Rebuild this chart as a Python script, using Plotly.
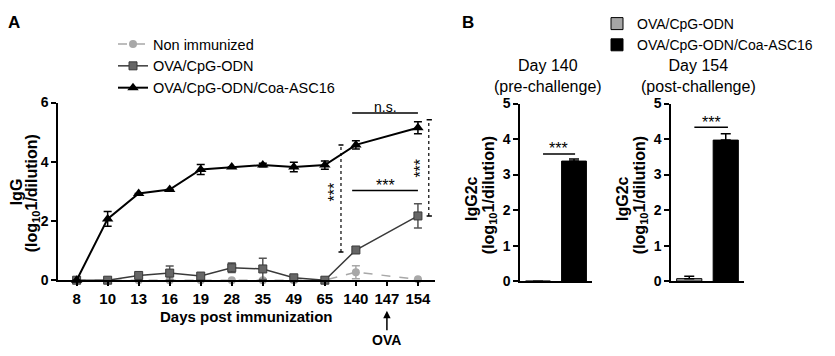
import plotly.graph_objects as go

W, H = 835, 356
FONT = "Liberation Sans, Arial, sans-serif"

# ---------------- data ----------------
days = ["8", "10", "13", "16", "19", "28", "35", "49", "65", "140", "147", "154"]
sampled_days = ["8", "10", "13", "16", "19", "28", "35", "49", "65", "140", "154"]

non_imm = [0, 0, 0, 0, 0, 0, 0, 0, 0, 0.27, 0.03]
non_imm_err = [0, 0, 0, 0, 0, 0, 0, 0, 0, 0.22, 0]

cpg = [0, 0, 0.16, 0.24, 0.14, 0.42, 0.38, 0.08, 0, 1.02, 2.17]
cpg_err = [0, 0, 0, 0.24, 0, 0.16, 0.36, 0, 0, 0, 0.41]

coa = [0, 2.07, 2.93, 3.06, 3.74, 3.82, 3.89, 3.82, 3.89, 4.57, 5.15]
coa_err = [0, 0.25, 0, 0, 0.17, 0, 0.06, 0.16, 0.14, 0.14, 0.2]

groups = ["OVA/CpG-ODN", "OVA/CpG-ODN/Coa-ASC16"]
d140 = [0.0, 3.38]
d140_err = [0.0, 0.06]
d154 = [0.07, 3.97]
d154_err = [0.07, 0.18]

# ---------------- helpers ----------------
def px_x(x):
    return x / W

def px_y(y):
    return 1 - y / H

XT = dict(family=FONT, size=15, color="black", weight="bold")
YT = dict(family=FONT, size=14, color="black", weight="bold")

fig = go.Figure()

# Panel A lines
fig.add_trace(go.Scatter(
    x=sampled_days, y=non_imm, name="Non immunized", mode="lines+markers",
    line=dict(color="#a8a8a8", width=1.5, dash="dash"),
    marker=dict(symbol="circle", size=8, color="#a8a8a8"),
    error_y=dict(type="data", array=non_imm_err, color="#a8a8a8", thickness=1.5, width=4),
    cliponaxis=False, xaxis="x", yaxis="y", legend="legend"))
fig.add_trace(go.Scatter(
    x=sampled_days, y=cpg, name="OVA/CpG-ODN", mode="lines+markers",
    line=dict(color="#3a3a3a", width=1.5),
    marker=dict(symbol="square", size=8, color="#666666", line=dict(color="#3a3a3a", width=1)),
    error_y=dict(type="data", array=cpg_err, color="#555555", thickness=1.5, width=4),
    cliponaxis=False, xaxis="x", yaxis="y", legend="legend"))
fig.add_trace(go.Scatter(
    x=sampled_days, y=coa, name="OVA/CpG-ODN/Coa-ASC16", mode="lines+markers",
    line=dict(color="black", width=2),
    marker=dict(symbol="triangle-up", size=10, color="black"),
    error_y=dict(type="data", array=coa_err, color="black", thickness=1.5, width=4),
    cliponaxis=False, xaxis="x", yaxis="y", legend="legend"))

# Panel B bars
colors = ["#a6a6a6", "black"]
for i, g in enumerate(groups):
    fig.add_trace(go.Bar(
        x=[g], y=[d140[i]], name=g, width=0.69,
        marker=dict(color=colors[i], line=dict(color="black", width=1)),
        error_y=dict(type="data", symmetric=False, array=[d140_err[i]], arrayminus=[0],
                     color="black", thickness=1.5, width=5),
        xaxis="x2", yaxis="y2", legend="legend2", legendgroup=g, showlegend=True))
for i, g in enumerate(groups):
    fig.add_trace(go.Bar(
        x=[g], y=[d154[i]], name=g, width=0.69,
        marker=dict(color=colors[i], line=dict(color="black", width=1)),
        error_y=dict(type="data", symmetric=False, array=[d154_err[i]], arrayminus=[0],
                     color="black", thickness=1.5, width=5),
        xaxis="x3", yaxis="y3", legend="legend2", legendgroup=g, showlegend=False))

axis_common = dict(showline=True, linecolor="black", linewidth=1.5, ticks="outside",
                   ticklen=5, tickwidth=1.5, tickcolor="black", showgrid=False,
                   zeroline=False, fixedrange=True)

ydom = [px_y(285), px_y(99)]
ydomB = [px_y(286), px_y(100)]

fig.update_layout(
    width=W, height=H, margin=dict(l=0, r=0, t=0, b=0),
    paper_bgcolor="white", plot_bgcolor="white",
    font=dict(family=FONT, color="black"),
    barmode="overlay",
    xaxis=dict(domain=[px_x(58), px_x(435)], type="category", categoryorder="array",
               categoryarray=days, tickvals=days, ticktext=days, range=[-0.6, 11.55],
               anchor="y", tickfont=XT, **{**axis_common, "ticklen": 4}),
    yaxis=dict(domain=ydom, range=[0, 6], tickvals=[0, 2, 4, 6], anchor="x", tickfont=YT,
               **axis_common),
    xaxis2=dict(domain=[px_x(520), px_x(592)], type="category", categoryorder="array",
                categoryarray=groups, range=[-0.5, 1.5], anchor="y2",
                **{**axis_common, "ticks": "", "showticklabels": False}),
    yaxis2=dict(domain=ydomB, range=[0, 5], dtick=1, anchor="x2", tickfont=YT, **axis_common),
    xaxis3=dict(domain=[px_x(671), px_x(744)], type="category", categoryorder="array",
                categoryarray=groups, range=[-0.5, 1.5], anchor="y3",
                **{**axis_common, "ticks": "", "showticklabels": False}),
    yaxis3=dict(domain=ydomB, range=[0, 5], dtick=1, anchor="x3", tickfont=YT, **axis_common),
    legend=dict(x=px_x(113), y=px_y(21), xanchor="left", yanchor="top",
                font=dict(family=FONT, size=14.5, color="black"), bgcolor="rgba(0,0,0,0)",
                tracegroupgap=0),
    legend2=dict(x=px_x(597), y=1, xanchor="left", yanchor="top",
                 font=dict(family=FONT, size=14, color="black"), bgcolor="rgba(0,0,0,0)",
                 tracegroupgap=0),
)

shapes = []
def seg(x0, y0, x1, y1, xref, yref, dash="solid", width=1.5):
    shapes.append(dict(type="line", x0=x0, y0=y0, x1=x1, y1=y1, xref=xref, yref=yref,
                       line=dict(color="black", width=width, dash=dash)))

# Panel A brackets
seg(8.88, 5.65, 11.0, 5.65, "x", "y")
seg(8.88, 3.03, 11.0, 3.03, "x", "y")
seg(8.52, 0.95, 8.52, 4.57, "x", "y", dash="dot", width=1.2)
seg(8.44, 0.95, 8.6, 0.95, "x", "y")
seg(8.44, 4.57, 8.6, 4.57, "x", "y")
seg(11.35, 2.17, 11.35, 5.42, "x", "y", dash="dot", width=1.2)
seg(11.28, 2.17, 11.45, 2.17, "x", "y")
seg(11.28, 5.42, 11.45, 5.42, "x", "y")
# Panel B brackets
seg(0.14, 3.58, 1.03, 3.58, "x2", "y2")
seg(0.14, 4.33, 1.06, 4.33, "x3", "y3")
fig.update_layout(shapes=shapes)

ann = []
def text(x, y, s, size=15, bold=False, angle=0, xref="paper", yref="paper", **kw):
    f = dict(family=FONT, size=size, color="black")
    if bold:
        f["weight"] = "bold"
    ann.append(dict(x=x, y=y, text=s, xref=xref, yref=yref, showarrow=False,
                    font=f, textangle=angle, xanchor="center", yanchor="middle", **kw))

text(px_x(14), px_y(15), "A", size=17, bold=True)
text(px_x(468), px_y(15), "B", size=17, bold=True)

# axis titles panel A
text(px_x(16), px_y(193), "IgG", size=16, bold=True, angle=-90)
text(px_x(32), px_y(194), "(log<sub>10</sub>1/dilution)", size=16, bold=True, angle=-90)
text(px_x(246), px_y(323), "Days post immunization", size=15, bold=True)

# OVA arrow
ann.append(dict(x=10, y=px_y(317), xref="x", yref="paper", text="<b>OVA</b>",
                showarrow=True, arrowhead=2, arrowsize=1, arrowwidth=1.5, arrowcolor="black",
                ax=0, ay=29, font=dict(family=FONT, size=14, color="black")))

# significance labels panel A
text(9.94, 5.86, "n.s.", size=14, xref="x", yref="y")
text(9.94, 3.2, "***", size=16, xref="x", yref="y")
text(8.3, 2.97, "***", size=16, angle=-90, xref="x", yref="y")
text(11.1, 3.77, "***", size=16, angle=-90, xref="x", yref="y")

# panel B titles
text(px_x(548), px_y(71), "Day 140<br>(pre-challenge)", size=16)
text(px_x(698), px_y(71), "Day 154<br>(post-challenge)", size=16)
text(px_x(471), px_y(200), "IgG2c", size=16, bold=True, angle=-90)
text(px_x(489), px_y(196), "(log<sub>10</sub>1/dilution)", size=16, bold=True, angle=-90)
text(px_x(622), px_y(200), "IgG2c", size=16, bold=True, angle=-90)
text(px_x(640), px_y(196), "(log<sub>10</sub>1/dilution)", size=16, bold=True, angle=-90)
text(0.58, 3.72, "***", size=16, xref="x2", yref="y2")
text(0.6, 4.47, "***", size=16, xref="x3", yref="y3")

fig.update_layout(annotations=ann)

fig.write_html("out.html", config={"displayModeBar": False},
               post_script="document.body.style.margin='0';")
